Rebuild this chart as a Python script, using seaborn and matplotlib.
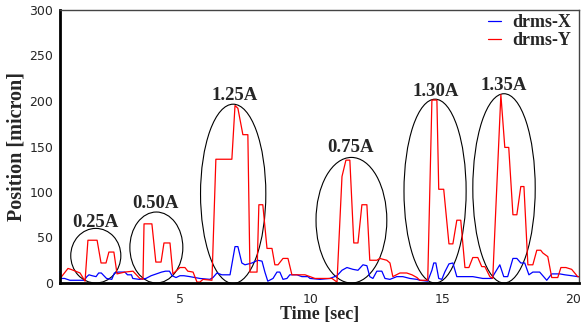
import numpy as np
import pandas as pd
import matplotlib
matplotlib.use("Agg")
import matplotlib.pyplot as plt
from matplotlib.patches import Ellipse
from matplotlib.ticker import MultipleLocator
import seaborn as sns

# ---- data ----
t_y = [0.43, 0.73, 0.84, 1.19, 1.38, 1.49, 1.84, 1.99, 2.18, 2.29, 2.48, 2.60, 2.90, 3.21, 3.47,
       3.59, 3.63, 3.93, 4.08, 4.28, 4.39, 4.62, 4.73, 5.00, 5.19, 5.30, 5.50, 5.65, 5.76, 5.88,
       6.22, 6.37, 6.98, 7.10, 7.21, 7.40, 7.59, 7.67, 7.94, 8.01, 8.16, 8.32, 8.51, 8.62, 8.74,
       8.93, 9.12, 9.27, 9.77, 9.96, 10.15, 10.80, 10.99, 11.18, 11.33, 11.48, 11.63, 11.79, 11.94,
       12.13, 12.24, 12.51, 12.62, 12.89, 13.01, 13.12, 13.39, 13.65, 13.85, 14.04, 14.15, 14.45,
       14.61, 14.80, 14.87, 15.06, 15.26, 15.41, 15.56, 15.71, 15.87, 16.02, 16.17, 16.36, 16.51,
       16.63, 16.82, 16.93, 17.24, 17.39, 17.54, 17.70, 17.85, 18.00, 18.12, 18.27, 18.46, 18.61,
       18.76, 18.84, 19.03, 19.18, 19.41, 19.53, 19.72, 19.94, 20.17, 20.22]
drms_y = [5, 16, 15, 11, 2, 47, 47, 22, 22, 34, 34, 10, 12, 13, 5,
          4, 65, 65, 23, 23, 44, 44, 10, 17, 17, 13, 12, 1, 1, 4,
          3, 136, 136, 195, 192, 163, 163, 12, 12, 86, 86, 38, 38, 20, 20,
          27, 27, 9, 9, 7, 5, 5, 1, 117, 135, 135, 44, 44, 86,
          86, 25, 25, 27, 25, 22, 7, 11, 11, 9, 6, 3, 3,
          201, 201, 103, 103, 43, 43, 69, 69, 17, 17, 28, 28, 18,
          18, 7, 5, 207, 149, 149, 75, 75, 106, 106, 20, 20, 36,
          36, 33, 29, 6, 6, 17, 17, 15, 7, 7]

t_x = [0.43, 0.60, 0.80, 1.35, 1.45, 1.53, 1.65, 1.80, 1.90, 2.00, 2.10, 2.20, 2.40, 2.50, 2.65,
       2.90, 3.00, 3.15, 3.20, 3.45, 3.70, 3.90, 4.10, 4.30, 4.45, 4.60, 4.70, 4.85, 5.00, 5.15,
       5.38, 5.76, 6.14, 6.26, 6.41, 6.60, 6.91, 7.10, 7.21, 7.36, 7.48, 7.75, 7.97, 8.13, 8.24,
       8.35, 8.55, 8.70, 8.81, 8.93, 9.08, 9.19, 9.46, 9.65, 9.88, 9.96, 10.34, 10.72, 10.99, 11.18,
       11.37, 11.60, 11.79, 11.98, 12.13, 12.24, 12.36, 12.51, 12.70, 12.82, 13.01, 13.27, 13.50,
       13.77, 14.04, 14.15, 14.45, 14.61, 14.68, 14.76, 14.87, 14.99, 15.10, 15.26, 15.41, 15.56,
       15.75, 16.17, 16.55, 16.89, 17.01, 17.20, 17.35, 17.50, 17.70, 17.85, 18.00, 18.15, 18.31,
       18.46, 18.72, 18.99, 19.18, 19.49, 19.68, 19.94, 20.17, 20.22]
drms_x = [5, 5, 3, 3, 7, 9, 8, 7, 11, 11, 8, 5, 4, 11, 12,
          12, 9, 9, 5, 4, 5, 8, 10, 12, 13, 13, 8, 6, 8, 8,
          7, 5, 4, 6, 11, 9, 9, 40, 40, 22, 20, 22, 25, 24, 12,
          2, 5, 12, 12, 4, 5, 9, 9, 7, 7, 5, 4, 5, 8, 14,
          17, 15, 14, 20, 19, 7, 5, 13, 13, 5, 4, 7, 7,
          5, 4, 3, 2, 14, 22, 22, 5, 4, 12, 21, 22, 7,
          7, 7, 5, 5, 11, 20, 7, 7, 27, 27, 22, 22, 9,
          12, 12, 3, 10, 10, 9, 8, 7, 7]

series_names = ["drms-X", "drms-Y"]
labels = ["0.25A", "0.50A", "1.25A", "0.75A", "1.30A", "1.35A"]
ell_cx = [1.79, 4.10, 7.03, 11.54, 14.73, 17.36]
ell_cy = [30, 39, 98, 69, 101, 104]
ell_w = [1.91, 2.02, 2.49, 2.70, 2.37, 2.38]
ell_h = [60, 78, 197, 138, 202, 208]
lab_x = [1.79, 4.08, 7.08, 11.50, 14.75, 17.35]
lab_y = [61, 82, 201, 144, 206, 212]

df = pd.concat([
    pd.DataFrame({"Time": t_x, "Position": drms_x, "series": series_names[0]}),
    pd.DataFrame({"Time": t_y, "Position": drms_y, "series": series_names[1]}),
], ignore_index=True)

sns.set_style("white")
plt.rcParams["font.family"] = ["DejaVu Sans"]

fig = plt.figure(figsize=(5.81, 3.25), dpi=100)
ax = fig.add_axes([60 / 581, 42 / 325, 519 / 581, 273 / 325])

sns.lineplot(data=df, x="Time", y="Position", hue="series", hue_order=series_names,
             palette={"drms-X": "#0000ff", "drms-Y": "#ff0000"}, estimator=None,
             sort=False, linewidth=0.9, ax=ax)

serif = dict(family="Liberation Serif", weight="bold")
for cx, cy, w, h in zip(ell_cx, ell_cy, ell_w, ell_h):
    ax.add_patch(Ellipse((cx, cy), w, h, fill=False, edgecolor="black", linewidth=0.8))
for lx, ly, s in zip(lab_x, lab_y, labels):
    ax.text(lx, ly, s, ha="center", va="baseline", fontsize=13.5, **serif)

ax.set_xlim(0.425, 20.22)
ax.set_ylim(0, 300)
ax.xaxis.set_major_locator(MultipleLocator(5))
ax.xaxis.set_minor_locator(MultipleLocator(1))
ax.yaxis.set_major_locator(MultipleLocator(50))
ax.yaxis.set_minor_locator(MultipleLocator(25))
ax.tick_params(axis="x", which="both", direction="inout", length=9, width=1, color="#333333",
               labelsize=9, pad=3)
ax.tick_params(axis="y", which="both", direction="inout", length=6, width=1, color="#333333",
               labelsize=9, pad=2)
ax.set_xlabel("Time [sec]", fontsize=13, labelpad=0, **serif)
ax.set_ylabel("Position [micron]", fontsize=14.5, labelpad=2, **serif)

for side in ["left", "bottom"]:
    ax.spines[side].set_color("black")
    ax.spines[side].set_linewidth(2)
for side in ["top", "right"]:
    ax.spines[side].set_color("#444444")
    ax.spines[side].set_linewidth(1)

leg = ax.legend(loc="upper right", bbox_to_anchor=(0.998, 1.012), frameon=False,
                handlelength=0.7, handletextpad=0.6, borderaxespad=0.0, labelspacing=0.05,
                prop=dict(family="Liberation Serif", weight="bold", size=13))
for line in leg.get_lines():
    line.set_linewidth(0.9)

fig.savefig("out.png", dpi=100)
